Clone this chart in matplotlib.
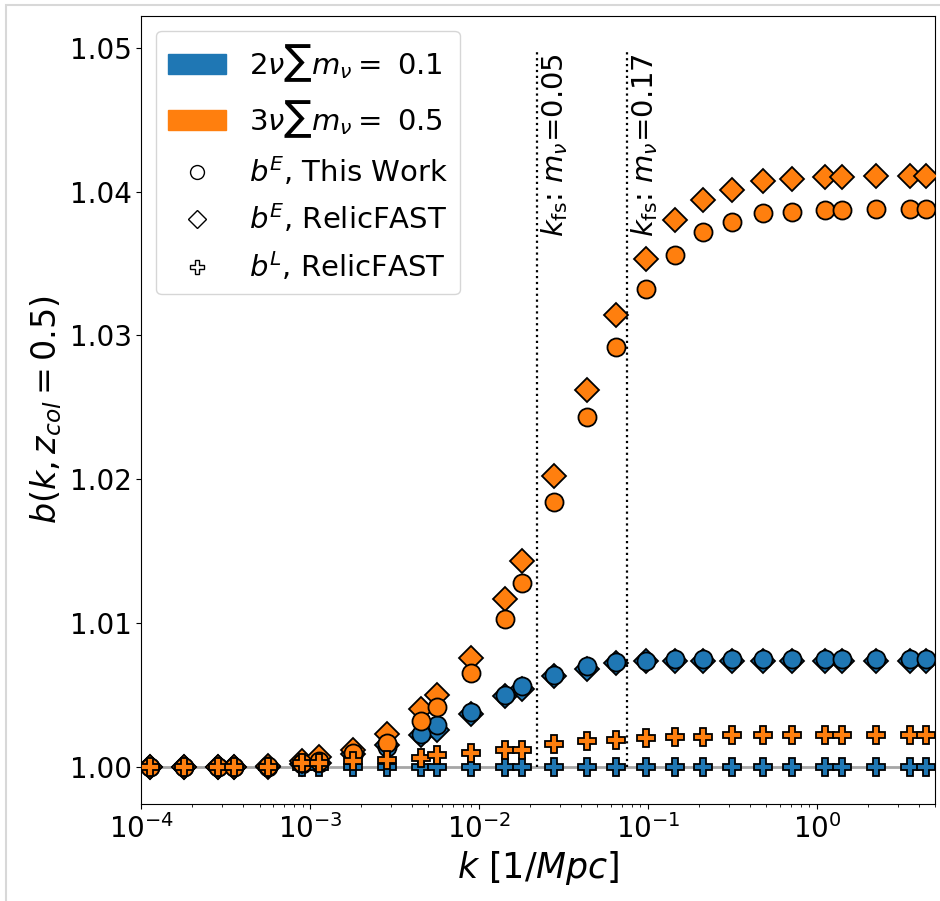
import matplotlib.pyplot as plt
from matplotlib.lines import Line2D
from matplotlib.patches import Patch, Rectangle

# data
k = [1.13e-4, 1.78e-4, 2.84e-4, 3.52e-4, 5.61e-4, 8.91e-4, 1.12e-3, 1.78e-3,
     2.84e-3, 4.51e-3, 5.61e-3, 8.91e-3, 1.42e-2, 1.78e-2, 2.76e-2, 4.33e-2,
     6.43e-2, 9.66e-2, 0.1435, 0.210, 0.312, 0.476, 0.716, 1.12, 1.40, 2.25,
     3.57, 4.45]

# 2nu, sum m_nu = 0.1
blue_E_this = [1.0000, 1.0000, 1.0000, 1.0000, 1.0000, 1.0002, 1.0003, 1.0008,
               1.0014, 1.0023, 1.0029, 1.0038, 1.0050, 1.0056, 1.0064, 1.0070,
               1.0073, 1.0074, 1.0075, 1.0075, 1.0075, 1.0075, 1.0075, 1.0075,
               1.0075, 1.0075, 1.0075, 1.0075]
blue_E_relic = [1.0000, 1.0000, 1.0000, 1.0000, 1.0000, 1.0002, 1.0003, 1.0009,
                1.0015, 1.0022, 1.0026, 1.0037, 1.0049, 1.0054, 1.0063, 1.0068,
                1.0072, 1.0074, 1.0074, 1.0074, 1.0074, 1.0074, 1.0074, 1.0074,
                1.0074, 1.0074, 1.0074, 1.0074]
blue_L_relic = [1.0000] * 28

# 3nu, sum m_nu = 0.5
orange_E_this = [1.0000, 1.0000, 1.0000, 1.0000, 1.0001, 1.0003, 1.0004, 1.0010,
                 1.0017, 1.0032, 1.0042, 1.0065, 1.0103, 1.0128, 1.0184, 1.0243,
                 1.0292, 1.0332, 1.0356, 1.0372, 1.0379, 1.0385, 1.0386, 1.0387,
                 1.0387, 1.0388, 1.0388, 1.0388]
orange_E_relic = [1.0000, 1.0000, 1.0000, 1.0000, 1.0001, 1.0004, 1.0007, 1.0012,
                  1.0023, 1.0040, 1.0050, 1.0076, 1.0117, 1.0143, 1.0202, 1.0262,
                  1.0314, 1.0353, 1.0380, 1.0394, 1.0401, 1.0407, 1.0409, 1.0410,
                  1.0410, 1.0411, 1.0411, 1.0411]
orange_L_relic = [1.0000, 1.0000, 1.0000, 1.0000, 1.0000, 1.0003, 1.0003, 1.0004,
                  1.0005, 1.0006, 1.0008, 1.0010, 1.0012, 1.0012, 1.0016, 1.0018,
                  1.0019, 1.0020, 1.0021, 1.0021, 1.0022, 1.0022, 1.0022, 1.0022,
                  1.0022, 1.0022, 1.0022, 1.0022]

k_fs = [0.0221, 0.0754]
k_fs_labels = [r'$k_{\rm fs}$: $m_\nu$=0.05', r'$k_{\rm fs}$: $m_\nu$=0.17']

blue = '#1f77b4'
orange = '#ff7f0e'

fig = plt.figure(figsize=(9.4, 9.01), dpi=100)
ax = fig.add_axes([0.1505, 0.1077, 0.8442, 0.8745])

# faint screenshot frame
fig.add_artist(Rectangle((0.006, -0.01), 1.0, 1.004, transform=fig.transFigure,
                         fill=False, edgecolor='#d8d8d8', lw=1.5))

ax.axhline(1.0, color='gray', alpha=0.7, lw=2, zorder=1)

for col, yE, yR, yL in [(blue, blue_E_this, blue_E_relic, blue_L_relic),
                        (orange, orange_E_this, orange_E_relic, orange_L_relic)]:
    ax.plot(k, yR, ls='', marker='D', mfc=col, ms=12.5, mec='k', mew=1.3, zorder=3)
    ax.plot(k, yE, ls='', marker='o', mfc=col, ms=13, mec='k', mew=1.3, zorder=3)
    ax.plot(k, yL, ls='', marker='P', mfc=col, ms=13, mec='k', mew=1.3, zorder=3)

for kk, lab in zip(k_fs, k_fs_labels):
    ax.vlines(kk, 1.0, 1.0498, colors='k', linestyles=':', lw=1.6, zorder=2)
    ax.text(kk * 1.02, 1.0496, lab, rotation=90, ha='left', va='top', fontsize=21)

ax.set_xscale('log')
ax.set_xlim(1e-4, 5.0)
ax.set_ylim(0.99743, 1.0522)
ax.set_yticks([1.00, 1.01, 1.02, 1.03, 1.04, 1.05])
ax.set_yticklabels(['1.00', '1.01', '1.02', '1.03', '1.04', '1.05'])
ax.tick_params(labelsize=20)
ax.set_xlabel(r'$k\ [1/Mpc]$', fontsize=25)
ax.set_ylabel(r'$b(k, z_{col}=0.5)$', fontsize=24)

handles = [Patch(color=blue), Patch(color=orange),
           Line2D([], [], ls='', marker='o', mfc='w', mec='k', ms=10, mew=1),
           Line2D([], [], ls='', marker='D', mfc='w', mec='k', ms=9, mew=1),
           Line2D([], [], ls='', marker='P', mfc='w', mec='k', ms=10, mew=1)]
labels = [r'$2\nu\sum m_\nu=$ 0.1', r'$3\nu\sum m_\nu=$ 0.5',
          r'$b^E$, This Work', r'$b^E$, RelicFAST', r'$b^L$, RelicFAST']
ax.legend(handles, labels, loc='upper left', fontsize=21)

fig.savefig('out.png', dpi=100)
